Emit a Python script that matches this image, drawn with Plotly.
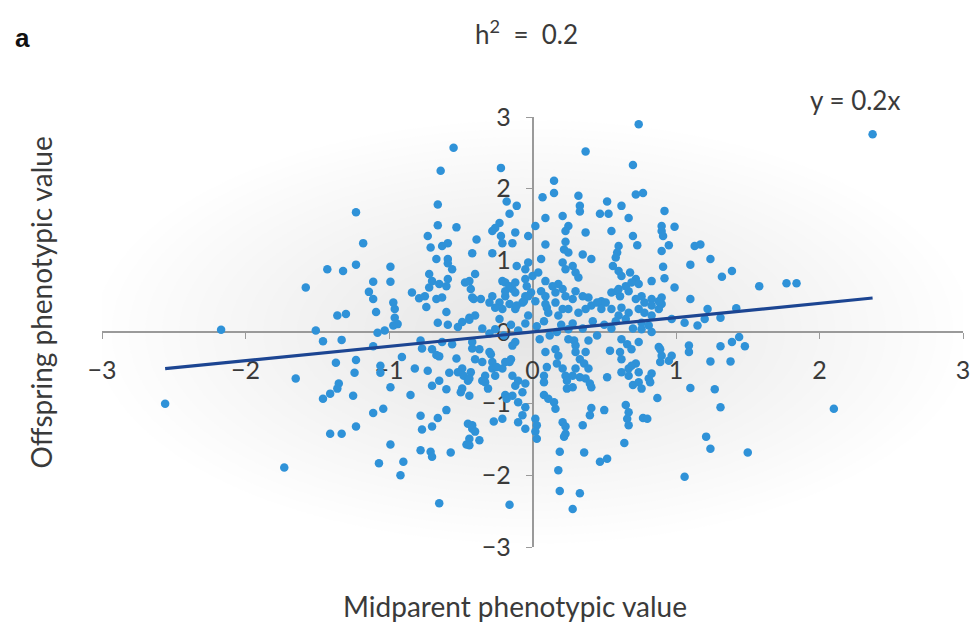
import plotly.graph_objects as go

# ---- data ----
points = [
    # sparse / upper region
    (2.37, 2.76), (0.74, 2.90), (0.37, 2.52), (-0.55, 2.57), (0.70, 2.33), (-0.64, 2.25), (-0.22, 2.29),
    (0.15, 2.11), (0.15, 1.94), (0.07, 1.88), (0.72, 1.92), (0.77, 1.94), (-0.66, 1.78), (-1.23, 1.67),
    (-0.18, 1.82), (-0.11, 1.76), (-0.16, 1.65), (0.32, 1.90), (0.33, 1.76), (0.33, 1.68), (0.52, 1.82),
    (0.62, 1.76), (0.47, 1.65), (0.53, 1.65), (0.92, 1.69), (0.09, 1.59), (0.21, 1.62), (-0.23, 1.52),
    (-0.26, 1.45), (-0.28, 1.41), (0.67, 1.59), (0.02, 1.48), (0.25, 1.48), (0.23, 1.41), (-0.12, 1.39),
    (0.37, 1.39), (0.55, 1.41), (0.90, 1.48), (0.90, 1.41), (0.91, 1.34), (0.99, 1.47), (-0.66, 1.49),
    (-0.53, 1.46), (-1.18, 1.24), (-0.73, 1.34), (-0.71, 1.18), (-0.63, 1.20), (-0.59, 1.24), (-0.42, 1.10),
    (-0.67, 1.02), (-0.59, 1.02), (-0.39, 1.29), (-0.22, 1.34), (-0.21, 1.24), (-0.03, 1.34), (-0.14, 1.24),
    (0.23, 1.26), (0.22, 1.15), (0.25, 1.11), (0.09, 1.22), (0.70, 1.34), (0.73, 1.21), (0.60, 1.20),
    (0.59, 1.11), (0.58, 1.04), (-0.28, 1.10), (0.35, 1.08), (0.41, 1.02), (-0.11, 0.92), (-0.03, 0.97),
    (0.06, 1.02), (0.21, 0.97), (0.23, 0.875), (0.28, 0.92), (0.30, 0.83), (0.32, 0.76), (0.56, 0.92),
    (0.60, 0.85), (0.62, 0.78), (0.68, 0.83), (0.72, 0.74), (0.74, 0.67), (0.83, 0.71), (-0.40, 0.81),
    (-0.44, 0.71), (0.95, 1.21), (0.90, 1.13), (1.13, 1.20), (1.17, 1.22), (1.24, 1.02), (1.10, 0.94),
    (0.91, 0.91), (0.92, 0.75), (1.32, 0.77), (1.39, 0.85), (0.99, 0.62), (1.58, 0.64), (1.77, 0.68),
    (1.84, 0.68), (1.10, 0.46), (0.90, 0.48), (0.90, 0.39), (1.22, 0.32), (1.42, 0.33),
    # upper left
    (-1.43, 0.875), (-1.32, 0.85), (-1.23, 0.94), (-0.99, 0.91), (-0.56, 0.875), (-0.72, 0.81), (-0.59, 0.96),
    (-1.58, 0.62), (-1.11, 0.70), (-0.99, 0.70), (-1.14, 0.56), (-1.11, 0.46), (-0.84, 0.55), (-0.79, 0.47),
    (-0.75, 0.50), (-0.72, 0.62), (-0.70, 0.71), (-0.65, 0.67), (-0.59, 0.74), (-0.60, 0.64), (-0.47, 0.69),
    (-0.43, 0.60), (-0.41, 0.46), (-0.97, 0.41), (-0.96, 0.32), (-1.09, 0.28), (-1.30, 0.25), (-0.74, 0.35),
    (-0.67, 0.46), (-0.63, 0.48), (-0.60, 0.28), (-0.44, 0.20), (-0.96, 0.20), (-0.94, 0.11), (-0.97, 0.09),
    (-0.66, 0.13), (-0.59, 0.10), (-0.52, 0.07), (-0.49, 0.14), (-0.44, 0.17), (-0.40, 0.23),
    (-0.28, 0.50), (-0.23, 0.41), (-0.21, 0.32), (-0.23, 0.18), (-0.26, 0.04), (-0.19, 0.69), (-0.14, 0.60),
    (-0.19, 0.50), (-0.12, 0.32), (-0.07, 0.41), (-0.05, 0.50), (-0.03, 0.23),
    # upper centre
    (-0.21, 0.71), (-0.16, 0.64), (-0.12, 0.69), (-0.19, 0.57), (-0.12, 0.55), (-0.05, 0.74), (-0.04, 0.64),
    (-0.01, 0.55), (0.09, 0.71), (0.18, 0.67), (0.16, 0.55), (0.06, 0.57), (0.09, 0.50), (0.30, 0.57),
    (0.28, 0.46), (0.39, 0.48), (0.48, 0.43), (0.55, 0.55), (0.59, 0.57), (0.61, 0.50), (0.67, 0.57),
    (0.72, 0.46), (0.76, 0.50), (0.83, 0.46), (-0.42, 0.48), (-0.36, 0.46), (-0.30, 0.41), (-0.26, 0.34),
    (-0.16, 0.39), (-0.11, 0.37), (-0.06, 0.43), (0.10, 0.34), (0.16, 0.41), (0.21, 0.32), (0.41, 0.37),
    (0.45, 0.41), (0.88, 0.32), (-0.05, 0.875), (0.00, 0.78), (0.04, 0.83), (0.14, 0.64), (0.21, 0.60),
    (0.23, 0.50), (0.35, 0.50), (0.51, 0.41), (0.60, 0.60), (0.65, 0.64), (0.69, 0.69), (0.78, 0.41),
    (0.83, 0.37), (0.88, 0.43), (-0.03, 0.50), (0.02, 0.43), (0.09, 0.39), (0.11, 0.27), (0.18, 0.23),
    (0.25, 0.32), (0.32, 0.27), (0.37, 0.32), (0.48, 0.32), (0.55, 0.32), (0.62, 0.34), (0.67, 0.27),
    (0.74, 0.32), (0.78, 0.27), (0.83, 0.23), (0.60, 0.23), (0.65, 0.18), (0.76, 0.13), (0.81, 0.09),
    (0.97, 0.18), (1.06, 0.13), (1.20, 0.18), (1.15, 0.09), (1.31, 0.20),
    # band around the origin
    (-0.35, 0.05), (-0.30, -0.02), (-0.15, 0.10), (-0.10, 0.02), (-0.05, 0.12), (0.03, 0.08), (0.08, 0.15),
    (0.12, -0.05), (0.20, 0.10), (0.28, 0.12), (0.35, 0.05), (0.42, 0.15), (0.45, -0.05), (0.50, 0.10),
    (0.55, 0.05), (0.58, 0.15), (0.70, 0.05), (0.05, -0.10), (-0.20, -0.05), (0.17, 0.00), (0.25, 0.04),
    (0.29, -0.12),
    # lower left
    (-2.17, 0.03), (-2.56, -1.00), (-1.73, -1.89), (-1.36, 0.23), (-1.51, 0.02), (-1.46, -0.13),
    (-1.33, -0.11), (-1.08, -0.01), (-1.03, 0.02), (-1.11, -0.20), (-0.78, -0.12), (-0.77, -0.23),
    (-0.70, -0.24), (-0.67, -0.32), (-0.65, -0.34), (-0.63, -0.14), (-0.56, -0.17), (-0.42, -0.23),
    (-1.37, -0.43), (-1.23, -0.39), (-0.91, -0.35), (-1.65, -0.65), (-1.24, -0.57), (-1.06, -0.57),
    (-0.82, -0.51), (-0.73, -0.54), (-0.53, -0.37), (-0.58, -0.57), (-0.49, -0.51), (-0.48, -0.61),
    (-0.45, -0.68), (-1.35, -0.72), (-1.36, -0.79), (-1.41, -0.86), (-1.46, -0.93), (-1.25, -0.89),
    (-0.99, -0.77), (-0.85, -0.88), (-0.70, -0.75), (-0.65, -0.68), (-0.60, -0.80), (-0.50, -0.84),
    (-0.44, -0.89), (-1.11, -1.13), (-1.04, -1.07), (-0.78, -1.17), (-0.66, -1.20), (-0.60, -1.09),
    (-0.77, -1.36), (-0.70, -1.32), (-0.45, -1.28), (-0.42, -1.35), (-1.41, -1.42), (-1.33, -1.42),
    (-1.23, -1.32), (-0.99, -1.57), (-0.78, -1.65), (-0.71, -1.67), (-0.70, -1.74), (-0.57, -1.68),
    (-0.46, -1.57), (-1.07, -1.83), (-0.90, -1.81), (-0.92, -2.00), (-0.65, -2.39),
    (-1.06, -0.47), (-0.52, -0.56), (-0.49, -0.79), (-0.35, -0.42), (-0.29, -0.31), (-0.28, -0.51),
    (-0.26, -0.61), (-0.33, -0.70), (-0.21, -0.51), (-0.16, -0.42), (-0.14, -0.61), (-0.12, -0.75),
    (-0.19, -0.88), (-0.10, -0.98), (-0.07, -1.16), (-0.05, -1.35), (-0.37, -1.51), (-0.27, -1.25),
    (-0.21, -1.21), (-0.42, -0.14), (-0.37, -0.24), (-0.40, -0.38), (-0.43, -0.56), (-0.44, -0.65),
    (-0.30, -0.28), (-0.28, -0.42), (-0.25, -0.49), (-0.19, -0.42), (-0.33, -0.61), (-0.35, -0.68),
    (-0.31, -0.79), (-0.14, -0.19), (-0.12, -0.14), (-0.15, -0.38), (-0.10, -0.68), (-0.07, -0.84),
    (-0.05, -0.72), (-0.18, -0.93), (-0.14, -0.89), (-0.42, -1.30), (-0.40, -1.39), (-0.44, -1.49),
    (-0.44, -1.58), (-0.16, -2.41), (-0.05, -1.05), (-0.10, -1.26),
    # lower right
    (0.02, -1.21), (0.03, -1.30), (0.03, -1.49), (0.02, -1.39), (0.21, -1.26), (0.23, -1.32), (0.23, -1.42),
    (0.22, -1.46), (0.35, -1.30), (0.41, -1.06), (0.40, -1.16), (0.50, -1.09), (0.65, -1.02), (0.67, -1.12),
    (0.66, -1.21), (0.67, -1.30), (0.77, -1.20), (0.80, -1.21), (0.87, -0.92), (0.76, -0.79), (0.70, -0.74),
    (0.81, -0.65), (0.83, -0.58), (0.62, -0.56), (0.67, -0.51), (0.72, -0.44), (0.61, -0.28), (0.62, -0.38),
    (0.52, -0.63), (0.54, -0.26), (0.39, -0.12), (0.30, -0.28), (0.33, -0.38), (0.36, -0.44), (0.37, -0.28),
    (0.33, -0.63), (0.37, -0.65), (0.40, -0.72), (0.41, -0.77), (0.24, -0.79), (0.28, -0.77), (0.16, -0.24),
    (0.18, -0.33), (0.17, -0.44), (0.21, -0.51), (0.23, -0.61), (0.24, -0.68), (0.09, -0.28), (0.10, -0.49),
    (0.08, -0.61), (0.08, -0.70), (0.08, -0.88), (0.11, -0.93), (0.15, -0.98), (0.16, -1.07),
    (0.19, -1.67), (0.18, -1.93), (0.19, -2.22), (0.33, -2.25), (0.28, -2.47), (0.36, -1.68), (0.47, -1.81),
    (0.52, -1.77), (0.64, -1.55), (0.25, -0.10), (0.30, -0.19), (0.28, -0.61), (0.30, -0.51), (0.39, -0.51),
    (0.62, -0.10), (0.66, -0.17), (0.69, -0.24), (0.74, -0.14), (0.76, 0.04), (0.83, 0.00), (0.88, -0.21),
    (0.90, -0.33), (0.89, -0.42), (0.97, -0.33), (1.09, -0.19), (1.09, -0.28), (0.67, -0.61), (0.69, -0.47),
    (0.74, -0.56), (0.74, -0.70), (0.82, -0.70), (1.06, -2.02), (0.89, -0.24), (0.95, -0.40), (1.31, -0.20),
    (1.39, -0.14), (1.44, -0.07), (1.48, -0.20), (1.24, -0.41), (1.38, -0.41), (1.10, -0.78), (1.27, -0.80),
    (1.31, -1.05), (2.10, -1.07), (1.21, -1.46), (1.24, -1.63), (1.50, -1.68),
]
midparent = [p[0] for p in points]
offspring = [p[1] for p in points]

slope = 0.2
tick_vals = [-3, -2, -1, 0, 1, 2, 3]
tick_text = ["\u22123", "\u22122", "\u22121", "0", "1", "2", "3"]

line_x = [min(midparent), max(midparent)]
line_y = [slope * v for v in line_x]

FONT = "Lato, 'Open Sans', sans-serif"
TXT = "#3a3a3a"
AX = "#9a9a9a"

fig = go.Figure()

# soft radial background (stacked translucent ellipses)
shapes = []
n = 26
for i in range(n):
    f = 1 - i / n
    shapes.append(dict(type="circle", xref="x", yref="y", layer="below",
                       x0=-3.05 * f, x1=3.05 * f, y0=-2.95 * f, y1=2.95 * f,
                       fillcolor="rgba(195,180,165,0.016)", line=dict(width=0)))

fig.add_trace(go.Scatter(x=midparent, y=offspring, mode="markers",
                         marker=dict(size=8.5, color="#2f92d8", line=dict(width=0)),
                         hoverinfo="skip", showlegend=False))
fig.add_trace(go.Scatter(x=line_x, y=line_y, mode="lines",
                         line=dict(color="#1c4592", width=3.2),
                         hoverinfo="skip", showlegend=False))

axis_common = dict(showgrid=False, zeroline=False, showline=True, linecolor=AX, linewidth=1.5,
                   ticks="outside", ticklen=6, tickwidth=1.2, tickcolor=AX,
                   tickvals=tick_vals, ticktext=tick_text,
                   tickfont=dict(family=FONT, size=25, color=TXT),
                   layer="below traces", ticklabelstandoff=10)


def ann(text, px, py, size, angle=0, family=FONT, color=TXT):
    # px, py: pixel centre of the text; converted to paper fractions of the plot area
    return dict(text=text, x=(px - 102) / 868, y=(547 - py) / 430, xref="paper", yref="paper",
                xanchor="center", yanchor="middle", showarrow=False, textangle=angle,
                font=dict(family=family, size=size, color=color))


fig.update_layout(
    width=978, height=628,
    margin=dict(l=102, r=8, t=117, b=81),
    paper_bgcolor="white", plot_bgcolor="white",
    shapes=shapes,
    xaxis=dict(range=[-3, 3], anchor="free", position=0.5, **axis_common),
    yaxis=dict(range=[-3, 3], anchor="free", position=0.5, **axis_common),
    annotations=[
        ann("<b>a</b>", 22, 38, 26, family="Liberation Sans, Arial", color="#111"),
        ann("h<sup>2</sup>  =  0.2", 530, 33, 26),
        ann("y = 0.2x", 861, 100, 26),
        ann("Offspring phenotypic value", 40, 303, 28, angle=-90),
        ann("Midparent phenotypic value", 518, 606, 28),
    ],
)

fig.write_html("out.html")
